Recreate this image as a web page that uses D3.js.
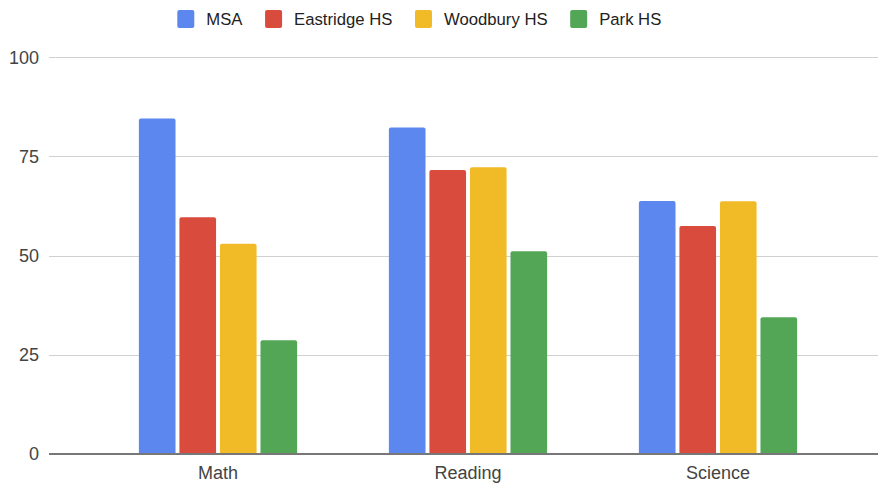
<!DOCTYPE html>
<html>
<head>
<meta charset="utf-8">
<script src="https://cdn.jsdelivr.net/npm/d3@7"></script>
<style>
  html, body { margin: 0; padding: 0; background: #fff; }
  svg { display: block; font-family: Arial, "Liberation Sans", sans-serif; }
</style>
</head>
<body>
<svg id="chart" width="878" height="484"></svg>
<script>
// ---- data ----
const categories = ["Math", "Reading", "Science"];
const seriesNames = ["MSA", "Eastridge HS", "Woodbury HS", "Park HS"];
const msa       = [84.6, 82.3, 63.8];
const eastridge = [59.7, 71.6, 57.5];
const woodbury  = [53.0, 72.3, 63.7];
const park      = [28.7, 51.1, 34.5];
const yTicks    = [0, 25, 50, 75, 100];
const colors    = ["#5b87ef", "#d94b3c", "#f1bb27", "#54a657"];

const seriesValues = [msa, eastridge, woodbury, park];

// ---- layout ----
const W = 878, H = 484;
const plotLeft = 49, plotRight = 878;
const yBase = 454, yTop = 57.3;

const svg = d3.select("#chart");

const y = d3.scaleLinear().domain([0, 100]).range([yBase, yTop]);
const x0 = d3.scaleBand().domain(categories).range([93, 843])
  .paddingInner(0.367).paddingOuter(0.1835);
const x1 = d3.scaleBand().domain(seriesNames).range([0, x0.bandwidth()])
  .paddingInner(0.096).paddingOuter(0);
const color = d3.scaleOrdinal().domain(seriesNames).range(colors);

// gridlines
svg.append("g").selectAll("line")
  .data(yTicks.filter(d => d !== 0))
  .join("line")
  .attr("x1", plotLeft).attr("x2", plotRight)
  .attr("y1", d => Math.round(y(d)) + 0.5).attr("y2", d => Math.round(y(d)) + 0.5)
  .attr("stroke", "#d0d0d0").attr("stroke-width", 1);

// y tick labels
svg.append("g").selectAll("text")
  .data(yTicks)
  .join("text")
  .attr("x", 39).attr("y", d => y(d))
  .attr("dy", "0.36em")
  .attr("text-anchor", "end")
  .attr("font-size", 18)
  .attr("fill", "#444")
  .text(d => d);

// bars
const data = [];
categories.forEach((c, i) => {
  seriesNames.forEach((s, j) => data.push({ cat: c, series: s, value: seriesValues[j][i] }));
});

function barPath(d) {
  const bx = x0(d.cat) + x1(d.series);
  const bw = x1.bandwidth();
  const top = y(d.value);
  const bot = y(0);
  const r = 2;
  return `M${bx},${bot} L${bx},${top + r} Q${bx},${top} ${bx + r},${top} ` +
         `L${bx + bw - r},${top} Q${bx + bw},${top} ${bx + bw},${top + r} L${bx + bw},${bot} Z`;
}

svg.append("g").selectAll("path")
  .data(data)
  .join("path")
  .attr("d", barPath)
  .attr("fill", d => color(d.series));

// baseline
svg.append("line")
  .attr("x1", plotLeft).attr("x2", plotRight)
  .attr("y1", yBase).attr("y2", yBase)
  .attr("stroke", "#777").attr("stroke-width", 2);

// x labels
svg.append("g").selectAll("text")
  .data(categories)
  .join("text")
  .attr("x", d => x0(d) + x0.bandwidth() / 2)
  .attr("y", 473)
  .attr("dy", "0.36em")
  .attr("text-anchor", "middle")
  .attr("font-size", 18)
  .attr("fill", "#444")
  .text(d => d);

// legend
const legend = svg.append("g");
let lx = 177.3;
seriesNames.forEach((s, i) => {
  legend.append("rect")
    .attr("x", lx).attr("y", 10).attr("width", 17).attr("height", 18)
    .attr("rx", 2).attr("fill", color(s));
  const t = legend.append("text")
    .attr("x", lx + 29).attr("y", 19)
    .attr("dy", "0.36em")
    .attr("font-size", 16.7)
    .attr("fill", "#222")
    .text(s);
  const tw = t.node().getComputedTextLength();
  lx = lx + 29 + tw + 22.6;
});
</script>
</body>
</html>
